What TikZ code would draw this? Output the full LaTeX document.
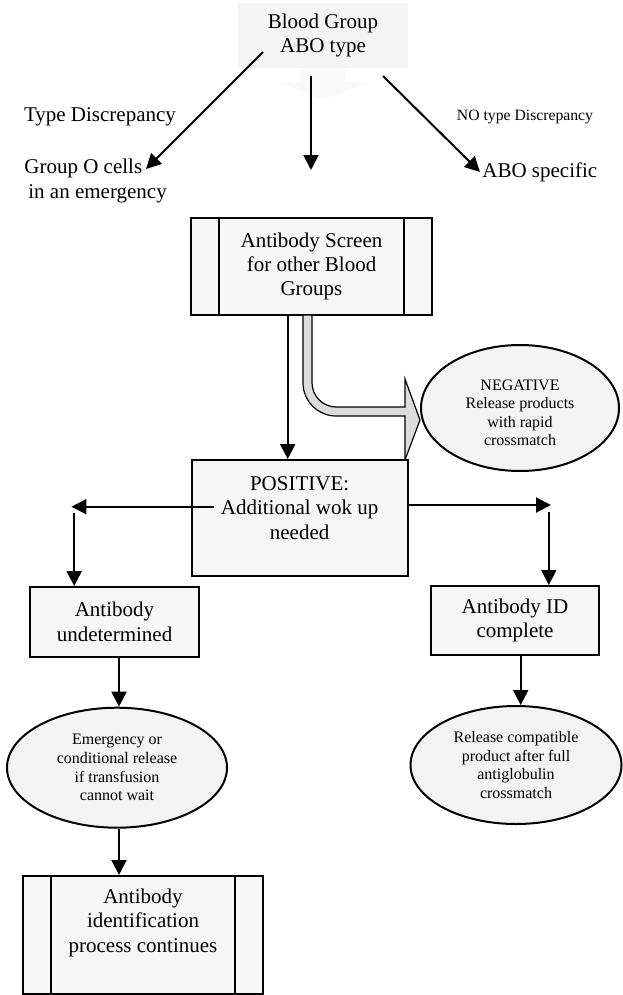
\documentclass[tikz,border=0pt]{standalone}
\usepackage{fontspec}
\setmainfont{Liberation Serif}
\usetikzlibrary{arrows.meta,shapes.geometric}

\definecolor{boxfill}{HTML}{F6F6F6}
\definecolor{ovalfill}{HTML}{F3F3F3}
\definecolor{topfill}{HTML}{F4F4F4}
\definecolor{fadefill}{HTML}{F9F9F9}
\definecolor{bendfill}{HTML}{DCDCDC}

\tikzset{
  arr/.style={line width=1pt,-{Triangle[length=7.5pt,width=7.5pt]}},
  box/.style={draw,line width=1pt,fill=boxfill,align=center,inner sep=0pt,font=\fontsize{10.5}{12.2}\selectfont},
  oval/.style={draw,ellipse,line width=1pt,fill=ovalfill,align=center,inner sep=0pt,font=\fontsize{8}{9.3}\selectfont},
  lbl/.style={inner sep=0pt,align=center,font=\fontsize{10.5}{12.2}\selectfont},
}

\begin{document}
\begin{tikzpicture}[x=0.5pt,y=-0.5pt]
\useasboundingbox (0,0) rectangle (622,995);

% Blood group
\fill[fadefill] (300,68) -- (300,82) -- (280,82) -- (323,100) -- (367,82) -- (346,82) -- (346,68) -- cycle;
\node[lbl,fill=topfill,minimum width=85pt,minimum height=32.5pt] (abo) at (323,35.5) {Blood Group\\ABO type};

% Labels
\node[lbl] (typed) at (100,117) {Type Discrepancy};
\node[lbl,align=left,anchor=west] (groupo) at (24,181) {Group O cells\\\hspace*{2pt}in an emergency};
\node[lbl,font=\fontsize{7.85}{9}\selectfont] (notyped) at (525,117) {NO type Discrepancy};
\node[lbl,anchor=west] (abospec) at (482,172) {ABO specific};

% Arrows from blood group
\coordinate (tl) at (263,52);
\coordinate (glend) at (146,169);
\coordinate (tm) at (311,76);
\coordinate (tmend) at (311,170);
\coordinate (tr) at (383,76);
\draw[arr] (tl) -- (glend);
\draw[arr] (tm) -- (tmend);
\draw[arr] (tr) -- ([xshift=-1pt]abospec.west);

% Antibody screen
\node[box,minimum width=120.5pt,minimum height=48.5pt] (screen) at (311.5,266.5) {Antibody Screen\\for other Blood\\Groups};
\draw[line width=1pt] ([xshift=14.5pt]screen.north west) -- ([xshift=14.5pt]screen.south west);
\draw[line width=1pt] ([xshift=-14.5pt]screen.north east) -- ([xshift=-14.5pt]screen.south east);

% Bent arrow to negative
\filldraw[line width=0.6pt,fill=bendfill] (303,315) -- (303,383)
  .. controls (303,401) and (318,416) .. (336,416) -- (405,416) -- (405,460)
  -- (420,420) -- (405,379) -- (405,407) -- (336,407)
  .. controls (323,407) and (312,396) .. (312,383) -- (312,315) -- cycle;

\node[oval,minimum width=99pt,minimum height=63pt] (neg) at (520,408) {\rule{0pt}{10pt}NEGATIVE\\Release products\\with rapid\\crossmatch};

% Positive
\node[box,minimum width=107.9pt,minimum height=57.85pt] (pos) at (299.6,517.9) {POSITIVE:\\Additional wok up\\needed\rule[-10pt]{0pt}{0pt}};
\draw[arr] ([xshift=-11.9pt]screen.south) -- ([xshift=-5.95pt]pos.north);

\node[box,minimum width=84.5pt,minimum height=35pt] (und) at (114.5,622) {Antibody\\undetermined};
\node[box,minimum width=84pt,minimum height=34.5pt] (idc) at (515,620.5) {Antibody ID\\complete};

\coordinate (pl) at (214,506.7);
\coordinate (plend) at (71.4,506.7);
\coordinate (lv) at (74.2,513);
\coordinate (prend) at (551,505);
\coordinate (rv) at (548.8,511.7);
\draw[arr] (pl) -- (plend);
\draw[arr] (lv) -- (lv |- und.north);
\draw[arr] (pos.east |- prend) -- (prend);
\draw[arr] (rv) -- (rv |- idc.north);

% Release ovals
\node[oval,minimum width=110pt,minimum height=60pt] (emer) at (117,767.7) {Emergency or\\conditional release\\if transfusion\\cannot wait};
\node[oval,minimum width=105.5pt,minimum height=59pt] (rel) at (516,765) {Release compatible\\product after full\\antiglobulin\\crossmatch};

% Continues
\node[box,minimum width=120.3pt,minimum height=59pt] (cont) at (143,935) {Antibody\\identification\\process continues\rule[-14.5pt]{0pt}{0pt}};
\draw[line width=1pt] ([xshift=14.8pt]cont.north west) -- ([xshift=14.8pt]cont.south west);
\draw[line width=1pt] ([xshift=-14.5pt]cont.north east) -- ([xshift=-14.5pt]cont.south east);

\coordinate (uv) at (119,0);
\coordinate (rv2) at (520.7,0);
\draw[arr] (uv |- und.south) -- (uv |- emer.north);
\draw[arr] (uv |- emer.south) -- (uv |- cont.north);
\draw[arr] (rv2 |- idc.south) -- (rv2 |- rel.north);
\end{tikzpicture}
\end{document}
